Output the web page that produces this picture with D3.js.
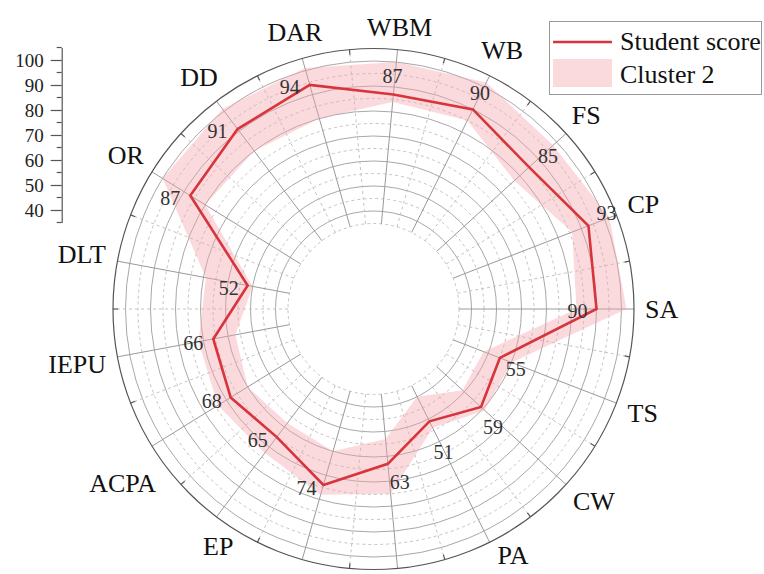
<!DOCTYPE html>
<html>
<head>
<meta charset="utf-8">
<script src="https://cdn.jsdelivr.net/npm/d3@7"></script>
<style>
  html, body { margin: 0; padding: 0; background: #fff; }
  svg { display: block; font-family: "Liberation Serif", "Times New Roman", serif; }
</style>
</head>
<body>
<svg id="chart" width="764" height="574"></svg>
<script>
// Axes of the radar, counter-clockwise starting from the right (SA)
const categories = ["SA", "CP", "FS", "WB", "WBM", "DAR", "DD", "OR", "DLT", "IEPU", "ACPA", "EP", "", "", "PA", "CW", "TS"];
const studentScore = [90, 93, 85, 90, 87, 94, 91, 87, 52, 66, 68, 65, 74, 63, 51, 59, 55];
// Cluster 2 range (lower / upper bound per axis)
const clusterLow  = [82, 86, 77, 85, 84, 80, 80, 80, 50, 57, 60, 58, 60, 53, 40, 49, 48];
const clusterHigh = [102, 102, 98, 102, 100, 101, 101, 100, 69, 72, 74, 73, 78, 75, 54, 61, 60];
const radialMajorTicks = [40, 50, 60, 70, 80, 90, 100];
const radialMinorTicks = [35, 45, 55, 65, 75, 85, 95, 105];
const legendLabels = ["Student score", "Cluster 2"];
// value-label placement relative to its point, per axis
const scoreLabelOffsets = [[-19, 2], [18, -12], [19, -11], [7, -16], [-1, -18], [-20, 3], [-20, 2], [-20, 3],
  [-19, 3], [-20, 4], [-19, 4], [-19, 3], [-17, 3], [12, 19], [14, 31], [12, 20], [16, 11]];
// small shifts applied to the axis titles in the lower half
const categoryLabelNudge = [[0, 0], [0, 0], [0, 0], [0, 0], [0, 0], [0, 0], [0, 0], [0, 0],
  [0, 0], [0, 0], [8, 14], [18, 8], [0, 0], [0, 0], [12, -10], [4, -5], [0, 0]];

const RED = "#d8343b";
const PINK = "#f4a3ab";

const svg = d3.select("#chart");
const cx = 373.5, cy = 309;
const n = categories.length;
const r = d3.scaleLinear().domain([35, 105]).range([85.5, 260.5]);
// math angle, counter-clockwise from east
const theta = d3.scaleLinear().domain([0, n]).range([0, 2 * Math.PI]);
const d3Angle = k => Math.PI / 2 - theta(k);
const polar = (k, rad) => [cx + rad * Math.cos(theta(k)), cy - rad * Math.sin(theta(k))];

const g = svg.append("g").attr("transform", `translate(${cx},${cy})`);

// ---- grid rings ----
g.selectAll("circle.minor").data(radialMinorTicks.filter(v => v < 105)).join("circle")
  .attr("r", d => r(d)).attr("fill", "none")
  .attr("stroke", "#c4c4c4").attr("stroke-width", 1).attr("stroke-dasharray", "3,3");
g.selectAll("circle.major").data(radialMajorTicks).join("circle")
  .attr("r", d => r(d)).attr("fill", "none")
  .attr("stroke", "#a8a8a8").attr("stroke-width", 1);

// ---- spokes and half-step dashed spokes ----
const spokeIdx = d3.range(n);
g.selectAll("line.half").data(spokeIdx).join("line")
  .attr("x1", k => polar(k + 0.5, r(35))[0] - cx).attr("y1", k => polar(k + 0.5, r(35))[1] - cy)
  .attr("x2", k => polar(k + 0.5, r(105))[0] - cx).attr("y2", k => polar(k + 0.5, r(105))[1] - cy)
  .attr("stroke", "#c4c4c4").attr("stroke-width", 1).attr("stroke-dasharray", "3,3");
g.selectAll("line.spoke").data(spokeIdx).join("line")
  .attr("x1", k => polar(k, r(35))[0] - cx).attr("y1", k => polar(k, r(35))[1] - cy)
  .attr("x2", k => polar(k, r(105))[0] - cx).attr("y2", k => polar(k, r(105))[1] - cy)
  .attr("stroke", "#9a9a9a").attr("stroke-width", 1);

// ---- cluster band ----
const band = d3.areaRadial()
  .angle((d, i) => d3Angle(i))
  .innerRadius(d => r(d[0]))
  .outerRadius(d => r(d[1]))
  .curve(d3.curveLinearClosed);
g.append("path")
  .datum(clusterLow.map((v, i) => [v, clusterHigh[i]]))
  .attr("d", band)
  .attr("fill", PINK).attr("fill-opacity", 0.4).attr("fill-rule", "evenodd");

// ---- outer frame with inward minor ticks ----
g.append("circle").attr("r", r(105)).attr("fill", "none").attr("stroke", "#555").attr("stroke-width", 1.2);
g.selectAll("line.tick").data(spokeIdx).join("line")
  .attr("x1", k => polar(k + 0.5, r(105))[0] - cx).attr("y1", k => polar(k + 0.5, r(105))[1] - cy)
  .attr("x2", k => polar(k + 0.5, r(105) - 5)[0] - cx).attr("y2", k => polar(k + 0.5, r(105) - 5)[1] - cy)
  .attr("stroke", "#555").attr("stroke-width", 1.2);

// ---- student score polygon ----
const scoreLine = d3.lineRadial()
  .angle((d, i) => d3Angle(i))
  .radius(d => r(d))
  .curve(d3.curveLinearClosed);
g.append("path").datum(studentScore).attr("d", scoreLine)
  .attr("fill", "none").attr("stroke", RED).attr("stroke-width", 2.6).attr("stroke-linejoin", "miter");

// ---- value labels ----
svg.append("g").selectAll("text").data(studentScore).join("text")
  .attr("x", (d, k) => polar(k, r(d))[0] + scoreLabelOffsets[k][0])
  .attr("y", (d, k) => polar(k, r(d))[1] + scoreLabelOffsets[k][1] + 6.6)
  .attr("text-anchor", "middle").attr("font-size", 20).attr("fill", "#333")
  .text(d => d);

// ---- category labels ----
const catSize = 26, capHalf = 0.33 * catSize, gap = 11;
svg.append("g").selectAll("text").data(categories).join("text")
  .attr("text-anchor", "middle").attr("font-size", catSize).attr("fill", "#111")
  .text(d => d)
  .each(function (d, k) {
    const ux = Math.cos(theta(k)), uy = Math.sin(theta(k));
    const w = this.getComputedTextLength();
    const dist = r(105) + gap + (w / 2) * Math.abs(ux) + capHalf * Math.abs(uy);
    d3.select(this)
      .attr("x", cx + dist * ux + categoryLabelNudge[k][0])
      .attr("y", cy - dist * uy + capHalf + categoryLabelNudge[k][1]);
  });

// ---- radial scale shown on the left ----
const yScale = d3.scaleLinear().domain([35, 105]).range([222.5, 47.5]);
const axisG = svg.append("g").attr("transform", "translate(61.7,0)");
axisG.call(d3.axisLeft(yScale).tickValues(radialMajorTicks).tickSize(11).tickSizeOuter(0).tickPadding(7));
axisG.select(".domain").attr("stroke", "#555").attr("stroke-width", 1.2);
axisG.selectAll(".tick line").attr("stroke", "#555").attr("stroke-width", 1.2);
axisG.selectAll(".tick text").attr("font-size", 19).attr("fill", "#222")
  .attr("font-family", "Liberation Serif, serif");
axisG.selectAll("line.minor").data(radialMinorTicks).join("line")
  .attr("x1", -5).attr("x2", 0)
  .attr("y1", d => yScale(d)).attr("y2", d => yScale(d))
  .attr("stroke", "#555").attr("stroke-width", 1.2);

// ---- legend ----
const lg = svg.append("g");
lg.append("rect").attr("x", 549.5).attr("y", 21.5).attr("width", 212).attr("height", 73)
  .attr("fill", "#fff").attr("stroke", "#999").attr("stroke-width", 1);
lg.append("line").attr("x1", 553).attr("x2", 612).attr("y1", 42).attr("y2", 42)
  .attr("stroke", RED).attr("stroke-width", 2.6);
lg.append("rect").attr("x", 553).attr("y", 59).attr("width", 59).attr("height", 28)
  .attr("fill", PINK).attr("fill-opacity", 0.4);
lg.selectAll("text").data(legendLabels).join("text")
  .attr("x", 620).attr("y", (d, i) => 50 + i * 33)
  .attr("font-size", 26).attr("fill", "#111")
  .text(d => d);
</script>
</body>
</html>
